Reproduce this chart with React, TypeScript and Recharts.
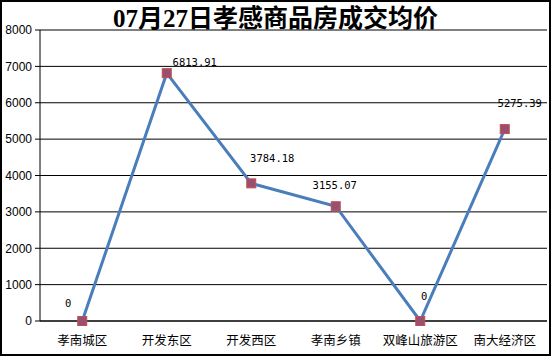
import React from 'react';
import {
  LineChart,
  Line,
  XAxis,
  YAxis,
  CartesianGrid,
  LabelList
} from 'recharts';

const districts = ['孝南城区', '开发东区', '开发西区', '孝南乡镇', '双峰山旅游区', '南大经济区'];
const avgPrices = [0, 6813.91, 3784.18, 3155.07, 0, 5275.39];
const priceLabels = ['0', '6813.91', '3784.18', '3155.07', '0', '5275.39'];
const yTicks = [0, 1000, 2000, 3000, 4000, 5000, 6000, 7000, 8000];

// label placement around each point (dx, dy), like the original sheet
const labelOffsets: [number, number][] = [
  [-14, -18],
  [28, -11],
  [21, -25],
  [-1, -21],
  [4, -25],
  [15, -26]
];

const data = districts.map((name, i) => ({ name, idx: i + 0.5, value: avgPrices[i] }));
const boundaryTicks = [...districts.map((_, i) => i), districts.length];

const SquareDot = (props: any) => {
  const { cx, cy, index } = props;
  if (cx == null || cy == null) return null;
  return (
    <rect
      key={`dot-${index}`}
      x={cx - 4.5}
      y={cy - 4.5}
      width={9}
      height={9}
      fill="#9A4F72"
      stroke="#C0504D"
      strokeWidth={1}
    />
  );
};

const PriceLabel = (props: any) => {
  const { x, y, index } = props;
  const [dx, dy] = labelOffsets[index] ?? [0, -12];
  return (
    <text
      x={x + dx}
      y={y + dy}
      textAnchor="middle"
      dominantBaseline="central"
      fontFamily='"DejaVu Sans Mono", monospace'
      fontSize={10.5}
      fill="#000"
    >
      {priceLabels[index]}
    </text>
  );
};

export default function App() {
  return (
    <div
      style={{
        position: 'fixed',
        left: 0,
        top: 0,
        width: 551,
        height: 356,
        boxSizing: 'border-box',
        border: '2px solid #000',
        background: '#fff'
      }}
    >
      <div
        style={{
          position: 'absolute',
          left: 0,
          right: 0,
          top: 3,
          textAlign: 'center',
          fontFamily: '"Liberation Serif", "Noto Sans CJK SC", serif',
          fontWeight: 'bold',
          fontSize: 25,
          lineHeight: '27px',
          color: '#000'
        }}
      >
        07月27日孝感商品房成交均价
      </div>
      <LineChart
        width={547}
        height={352}
        data={data}
        margin={{ top: 28, right: 2, bottom: 0, left: 0 }}
      >
        <CartesianGrid horizontal vertical={false} stroke="#000" strokeWidth={1} />
        <XAxis
          xAxisId="bounds"
          type="number"
          dataKey="idx"
          domain={[0, districts.length]}
          ticks={boundaryTicks}
          tick={false}
          tickSize={5}
          tickLine={{ stroke: '#000' }}
          axisLine={false}
          height={0}
          allowDataOverflow
        />
        <XAxis
          xAxisId="cats"
          dataKey="name"
          scale="band"
          tickLine={false}
          tickSize={0}
          tickMargin={15}
          height={33}
          axisLine={{ stroke: '#000' }}
          tick={{ fill: '#000', fontSize: 12.5, fontFamily: '"Noto Sans CJK SC", sans-serif' }}
          interval={0}
        />
        <YAxis
          domain={[0, 8000]}
          ticks={yTicks}
          width={38}
          tickSize={5}
          tickMargin={3}
          axisLine={{ stroke: '#000' }}
          tickLine={{ stroke: '#000' }}
          tick={{ fill: '#000', fontSize: 12, fontFamily: '"Liberation Sans", Arial, sans-serif' }}
        />
        <Line
          xAxisId="bounds"
          type="linear"
          dataKey="value"
          stroke="#4A7EBB"
          strokeWidth={3}
          dot={<SquareDot />}
          activeDot={false}
          isAnimationActive={false}
        >
          <LabelList dataKey="value" content={<PriceLabel />} />
        </Line>
      </LineChart>
    </div>
  );
}
